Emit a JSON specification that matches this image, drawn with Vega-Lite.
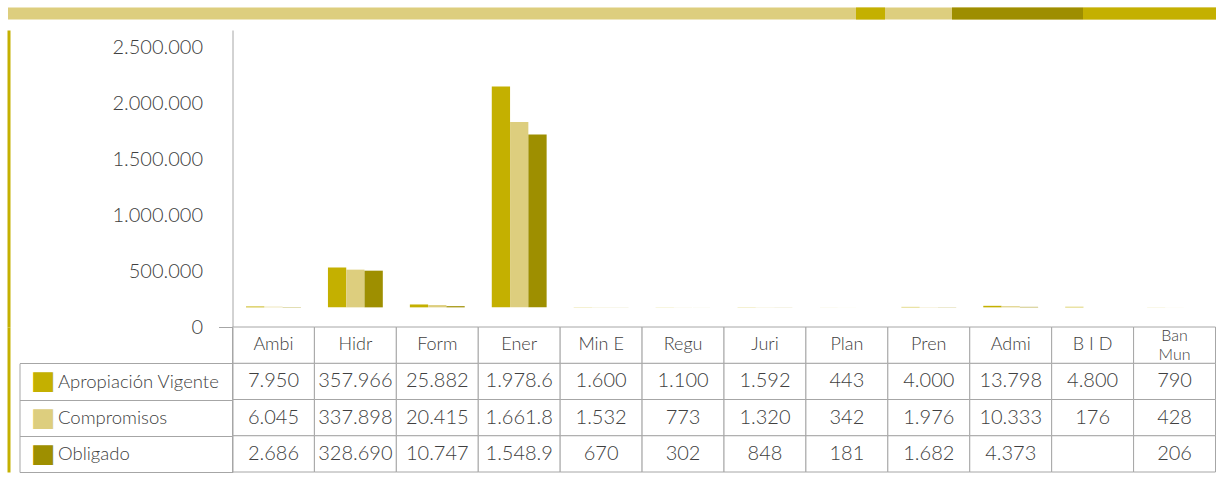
{
  "$schema": "https://vega.github.io/schema/vega-lite/v6.json",
  "padding": {"left": 1.5, "top": 7, "right": 0, "bottom": 0},
  "background": "white",
  "spacing": 0,
  "bounds": "flush",
  "config": {
    "font": "Lato",
    "view": {"stroke": null},
    "axis": {"labelFont": "Lato", "titleFont": "Lato", "labelFontWeight": 300}
  },
  "datasets": {
    "tabla": [
      {"cat": "Ambi", "serie": "Apropiación Vigente", "valor": 7950, "texto": "7.950"},
      {"cat": "Ambi", "serie": "Compromisos", "valor": 6045, "texto": "6.045"},
      {"cat": "Ambi", "serie": "Obligado", "valor": 2686, "texto": "2.686"},
      {"cat": "Hidr", "serie": "Apropiación Vigente", "valor": 357966, "texto": "357.966"},
      {"cat": "Hidr", "serie": "Compromisos", "valor": 337898, "texto": "337.898"},
      {"cat": "Hidr", "serie": "Obligado", "valor": 328690, "texto": "328.690"},
      {"cat": "Form", "serie": "Apropiación Vigente", "valor": 25882, "texto": "25.882"},
      {"cat": "Form", "serie": "Compromisos", "valor": 20415, "texto": "20.415"},
      {"cat": "Form", "serie": "Obligado", "valor": 10747, "texto": "10.747"},
      {"cat": "Ener", "serie": "Apropiación Vigente", "valor": 1978600, "texto": "1.978.6"},
      {"cat": "Ener", "serie": "Compromisos", "valor": 1661800, "texto": "1.661.8"},
      {"cat": "Ener", "serie": "Obligado", "valor": 1548900, "texto": "1.548.9"},
      {"cat": "Min E", "serie": "Apropiación Vigente", "valor": 1600, "texto": "1.600"},
      {"cat": "Min E", "serie": "Compromisos", "valor": 1532, "texto": "1.532"},
      {"cat": "Min E", "serie": "Obligado", "valor": 670, "texto": "670"},
      {"cat": "Regu", "serie": "Apropiación Vigente", "valor": 1100, "texto": "1.100"},
      {"cat": "Regu", "serie": "Compromisos", "valor": 773, "texto": "773"},
      {"cat": "Regu", "serie": "Obligado", "valor": 302, "texto": "302"},
      {"cat": "Juri", "serie": "Apropiación Vigente", "valor": 1592, "texto": "1.592"},
      {"cat": "Juri", "serie": "Compromisos", "valor": 1320, "texto": "1.320"},
      {"cat": "Juri", "serie": "Obligado", "valor": 848, "texto": "848"},
      {"cat": "Plan", "serie": "Apropiación Vigente", "valor": 443, "texto": "443"},
      {"cat": "Plan", "serie": "Compromisos", "valor": 342, "texto": "342"},
      {"cat": "Plan", "serie": "Obligado", "valor": 181, "texto": "181"},
      {"cat": "Pren", "serie": "Apropiación Vigente", "valor": 4000, "texto": "4.000"},
      {"cat": "Pren", "serie": "Compromisos", "valor": 1976, "texto": "1.976"},
      {"cat": "Pren", "serie": "Obligado", "valor": 1682, "texto": "1.682"},
      {"cat": "Admi", "serie": "Apropiación Vigente", "valor": 13798, "texto": "13.798"},
      {"cat": "Admi", "serie": "Compromisos", "valor": 10333, "texto": "10.333"},
      {"cat": "Admi", "serie": "Obligado", "valor": 4373, "texto": "4.373"},
      {"cat": "B I D", "serie": "Apropiación Vigente", "valor": 4800, "texto": "4.800"},
      {"cat": "B I D", "serie": "Compromisos", "valor": 176, "texto": "176"},
      {"cat": "B I D", "serie": "Obligado", "valor": null, "texto": ""},
      {"cat": "Ban\nMun", "serie": "Apropiación Vigente", "valor": 790, "texto": "790"},
      {"cat": "Ban\nMun", "serie": "Compromisos", "valor": 428, "texto": "428"},
      {"cat": "Ban\nMun", "serie": "Obligado", "valor": 206, "texto": "206"}
    ],
    "cabecera": [
      {"cat": "Ambi", "serie": "encabezado"},
      {"cat": "Hidr", "serie": "encabezado"},
      {"cat": "Form", "serie": "encabezado"},
      {"cat": "Ener", "serie": "encabezado"},
      {"cat": "Min E", "serie": "encabezado"},
      {"cat": "Regu", "serie": "encabezado"},
      {"cat": "Juri", "serie": "encabezado"},
      {"cat": "Plan", "serie": "encabezado"},
      {"cat": "Pren", "serie": "encabezado"},
      {"cat": "Admi", "serie": "encabezado"},
      {"cat": "B I D", "serie": "encabezado"},
      {"cat": "Ban\nMun", "serie": "encabezado"}
    ]
  },
  "vconcat": [
    {
      "width": 983,
      "height": 297,
      "data": {"name": "tabla"},
      "resolve": {"axis": {"x": "independent", "y": "independent"}},
      "layer": [
        {
          "mark": {"type": "bar"},
          "encoding": {
            "x": {
              "field": "cat", "type": "nominal",
              "scale": {"domain": ["Ambi", "Hidr", "Form", "Ener", "Min E", "Regu", "Juri", "Plan", "Pren", "Admi", "B I D", "Ban\nMun"], "paddingInner": 0, "paddingOuter": 0},
              "axis": {"orient": "top", "offset": 17, "domainWidth": 12, "domainColor": "#DDCE7E", "ticks": false, "labels": false, "title": null}
            },
            "xOffset": {
              "field": "serie", "type": "nominal",
              "scale": {"domain": ["Apropiación Vigente", "Compromisos", "Obligado"], "paddingOuter": 0.74, "paddingInner": 0}
            },
            "y": {
              "field": "valor", "type": "quantitative",
              "scale": {"domain": [-176000, 2485000], "nice": false, "zero": false},
              "axis": {
                "orient": "left", "title": null, "grid": false,
                "values": [-176000, 324000, 824000, 1324000, 1824000, 2324000],
                "labelExpr": "replace(format(datum.value + 176000, ','), regexp(',', 'g'), '.')",
                "tickSize": 14, "tickColor": "#a6a6a6",
                "tickOpacity": {"condition": {"test": "datum.value == -176000", "value": 1}, "value": 0},
                "labelPadding": 16, "labelFontSize": 20, "labelColor": "#404040",
                "domainColor": "#a6a6a6"
              }
            },
            "color": {
              "field": "serie", "type": "nominal",
              "scale": {"domain": ["Apropiación Vigente", "Compromisos", "Obligado"], "range": ["#C4B000", "#DDCE7E", "#9E8F00"]},
              "legend": null
            }
          }
        },
        {
          "mark": {"type": "point", "opacity": 0},
          "encoding": {
            "x": {"field": "cat", "type": "nominal",
              "axis": {"orient": "top", "offset": 17, "domainWidth": 12, "domainColor": "#9E8E00", "domainDash": [0, 719, 131, 3000], "ticks": false, "labels": false, "title": null}},
            "y": {"field": "valor", "type": "quantitative", "stack": null,
              "axis": {"orient": "left", "offset": 224, "domainColor": "#C4B000", "domainWidth": 3, "ticks": false, "labels": false, "grid": false, "title": null}}
          }
        },
        {
          "mark": {"type": "point", "opacity": 0},
          "encoding": {
            "x": {"field": "cat", "type": "nominal",
              "axis": {"orient": "top", "offset": 17, "domainWidth": 12, "domainColor": "#C4B000", "domainDash": [0, 850, 3000], "ticks": false, "labels": false, "title": null}},
            "y": {"field": "valor", "type": "quantitative", "stack": null,
              "axis": {"orient": "left", "offset": 0, "values": [2485000], "tickSize": 225, "tickWidth": 12, "tickOffset": -17, "tickColor": "#DDCE7E", "domain": false, "labels": false, "grid": false, "title": null}}
          }
        },
        {
          "mark": {"type": "point", "opacity": 0},
          "encoding": {
            "x": {"field": "cat", "type": "nominal",
              "axis": {"orient": "top", "offset": 17, "domainWidth": 12, "domainColor": "#C4B000", "domainDash": [0, 623, 29, 3000], "ticks": false, "labels": false, "title": null}},
            "y": {"field": "valor", "type": "quantitative", "stack": null, "axis": null}
          }
        }
      ]
    },
    {
      "width": 983,
      "height": 145,
      "resolve": {"axis": {"x": "independent", "y": "independent"}},
      "layer": [
        {
          "data": {"name": "tabla"},
          "mark": {"type": "rect", "fill": "white", "stroke": "#a6a6a6", "strokeWidth": 1},
          "encoding": {
            "x": {"field": "cat", "type": "nominal",
              "scale": {"domain": ["Ambi", "Hidr", "Form", "Ener", "Min E", "Regu", "Juri", "Plan", "Pren", "Admi", "B I D", "Ban\nMun"], "paddingInner": 0, "paddingOuter": 0},
              "axis": null},
            "y": {"field": "serie", "type": "nominal",
              "scale": {"domain": ["encabezado", "Apropiación Vigente", "Compromisos", "Obligado"], "paddingInner": 0, "paddingOuter": 0},
              "axis": {
                "orient": "left", "title": null,
                "tickBand": "extent", "tickSize": 213, "tickColor": "#a6a6a6",
                "tickOpacity": {"condition": {"test": "datum.extra", "value": 0}, "value": 1},
                "domainColor": "#a6a6a6",
                "labelExpr": "datum.value == 'encabezado' ? '' : datum.value",
                "labelAlign": "left", "labelBaseline": "middle", "labelPadding": -38,
                "labelFontSize": 18.5, "labelColor": "#404040"
              }}
          }
        },
        {
          "data": {"name": "cabecera"},
          "mark": {"type": "rect", "fill": "white", "stroke": "#a6a6a6", "strokeWidth": 1},
          "encoding": {
            "x": {"field": "cat", "type": "nominal", "axis": null},
            "y": {"field": "serie", "type": "nominal", "axis": null}
          }
        },
        {
          "data": {"name": "tabla"},
          "mark": {"type": "text", "fontSize": 20, "color": "#404040", "font": "Lato", "fontWeight": 300},
          "encoding": {
            "x": {"field": "cat", "type": "nominal", "axis": null},
            "y": {"field": "serie", "type": "nominal",
              "axis": {
                "orient": "left", "offset": 213, "title": null,
                "ticks": false, "tickSize": 0, "domainColor": "#a6a6a6",
                "domainDash": [0, 36.25, 300],
                "labelExpr": "datum.value == 'encabezado' ? '' : '■'",
                "labelAlign": "left", "labelBaseline": "middle", "labelPadding": -11,
                "labelFont": "DejaVu Sans", "labelFontSize": 26, "labelFontWeight": "normal",
                "labelColor": {"condition": [
                  {"test": "datum.value == 'Apropiación Vigente'", "value": "#C4B000"},
                  {"test": "datum.value == 'Compromisos'", "value": "#DDCE7E"}
                ], "value": "#9E8F00"}
              }},
            "text": {"field": "texto", "type": "nominal"}
          }
        },
        {
          "data": {"name": "cabecera"},
          "transform": [{"filter": "datum.cat != 'Ban\\nMun'"}],
          "mark": {"type": "text", "fontSize": 18, "color": "#404040", "font": "Lato", "fontWeight": 300},
          "encoding": {
            "x": {"field": "cat", "type": "nominal", "axis": null},
            "y": {"field": "serie", "type": "nominal",
              "axis": {"orient": "left", "offset": 224, "domainColor": "#C4B000", "domainWidth": 3, "ticks": false, "labels": false, "title": null}},
            "text": {"field": "cat", "type": "nominal"}
          }
        },
        {
          "data": {"name": "cabecera"},
          "transform": [{"filter": "datum.cat == 'Ban\\nMun'"}],
          "mark": {"type": "text", "fontSize": 16, "color": "#404040", "font": "Lato", "fontWeight": 300, "lineBreak": "\n", "lineHeight": 19, "dy": -9},
          "encoding": {
            "x": {"field": "cat", "type": "nominal", "axis": null},
            "y": {"field": "serie", "type": "nominal", "axis": null},
            "text": {"field": "cat", "type": "nominal"}
          }
        }
      ]
    }
  ]
}
